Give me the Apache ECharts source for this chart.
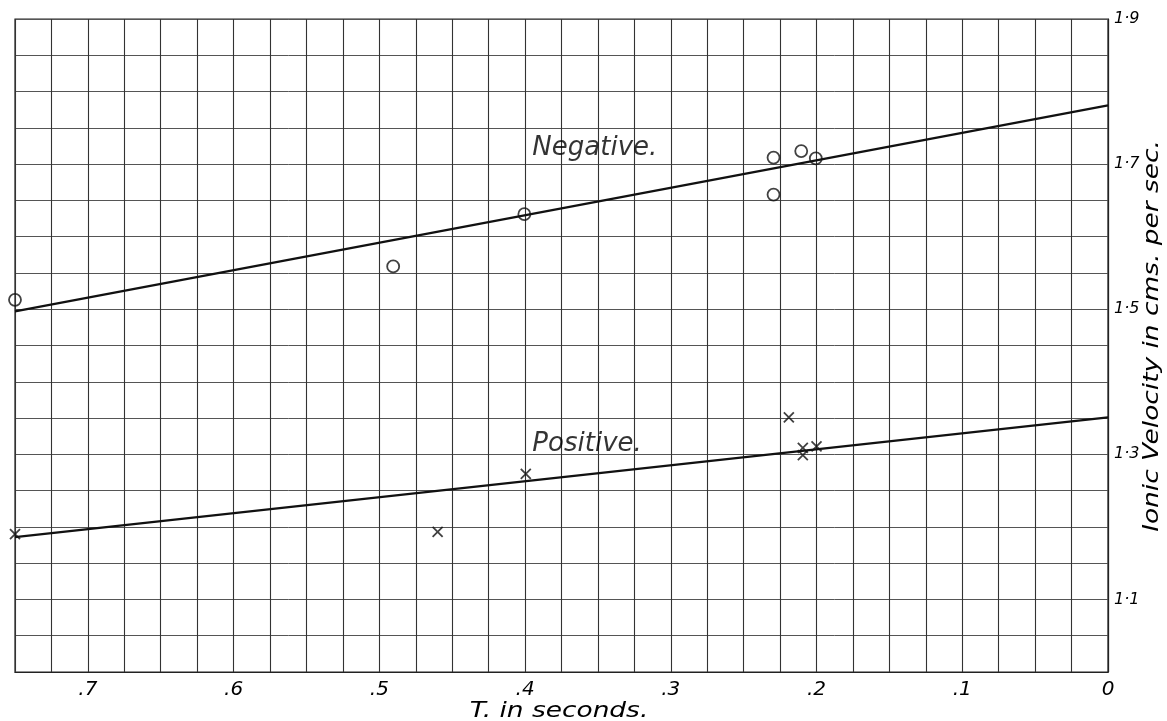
<!DOCTYPE html>
<html>
<head>
<meta charset="utf-8">
<script src="https://cdn.jsdelivr.net/npm/echarts@6/dist/echarts.min.js"></script>
<style>
html,body{margin:0;padding:0;background:#fff;overflow:hidden;width:100%;height:100%;}
#c{width:100vw;height:100vh;}
</style>
</head>
<body>
<div id="c"></div>
<script>
// ---- data ----
var negativePoints = [[0.75,1.513],[0.4905,1.559],[0.4005,1.631],[0.2295,1.709],[0.2295,1.658],[0.2105,1.718],[0.2005,1.708]];
var positivePoints = [[0.75,1.19],[0.46,1.193],[0.3995,1.273],[0.219,1.351],[0.2094,1.309],[0.2094,1.299],[0.2,1.311]];
var negativeLine = [[0.75,1.497],[0,1.781]];
var positiveLine = [[0.75,1.186],[0,1.351]];
var xTickValues = [0, 0.1, 0.2, 0.3, 0.4, 0.5, 0.6, 0.7];
var xTickLabels = ['0', '.1', '.2', '.3', '.4', '.5', '.6', '.7'];
var yTickValues = [1.1, 1.3, 1.5, 1.7, 1.9];
var yTickLabels = ['1·1', '1·3', '1·5', '1·7', '1·9'];
var seriesNames = ['Negative.', 'Positive.'];
var seriesLabelAt = [[0.395, 1.722], [0.395, 1.314]];
var xAxisName = 'T. in seconds.';
var yAxisName = 'Ionic Velocity in cms. per sec.';

function lookup(values, labels, v) {
  for (var i = 0; i < values.length; i++) {
    if (Math.abs(values[i] - v) < 1e-6) return labels[i];
  }
  return '';
}

var FONT = '"DejaVu Sans", "Liberation Sans", sans-serif';
var crossPath = 'path://M0,0L10,10M10,0L0,10';

var chart = echarts.init(document.getElementById('c'), null, {renderer: 'canvas'});
chart.setOption({
  backgroundColor: '#fff',
  animation: false,
  grid: {left: 15, right: 59, top: 19, bottom: 49, containLabel: false, outerBoundsMode: 'none',
         show: true, borderColor: '#222', borderWidth: 1.2, backgroundColor: 'transparent'},
  xAxis: {
    type: 'value', min: 0, max: 0.75, interval: 0.025, inverse: true,
    axisLine: {show: true, lineStyle: {color: '#222', width: 1.2}},
    axisTick: {show: false},
    axisLabel: {
      fontFamily: FONT, fontStyle: 'italic', fontSize: 20, color: '#000', margin: 8,
      showMinLabel: true, showMaxLabel: true,
      formatter: function (v) { return lookup(xTickValues, xTickLabels, v); }
    },
    splitLine: {show: true, lineStyle: {color: '#333', width: 1.1}}
  },
  yAxis: {
    type: 'value', min: 1.0, max: 1.9, interval: 0.05, position: 'right',
    axisLine: {show: true, lineStyle: {color: '#222', width: 1.2}},
    axisTick: {show: false},
    axisLabel: {
      fontFamily: FONT, fontStyle: 'italic', fontSize: 16, color: '#000', margin: 6,
      showMinLabel: true, showMaxLabel: true,
      formatter: function (v) { return lookup(yTickValues, yTickLabels, v); }
    },
    splitLine: {show: true, lineStyle: {color: '#555', width: 1}}
  },
  graphic: [
    {
      type: 'text', x: 559, y: 711, scaleX: 1.2, silent: true,
      style: {text: xAxisName, font: 'italic 22px ' + FONT, fill: '#000', align: 'center', verticalAlign: 'middle'}
    },
    {
      type: 'text', x: 1152, y: 336, rotation: Math.PI / 2, scaleX: 1.2, silent: true,
      style: {text: yAxisName, font: 'italic 22px ' + FONT, fill: '#000', align: 'center', verticalAlign: 'middle'}
    }
  ],
  series: [
    {
      type: 'line', data: negativeLine, symbol: 'none', silent: true,
      lineStyle: {color: '#111', width: 2.2}
    },
    {
      type: 'line', data: positiveLine, symbol: 'none', silent: true,
      lineStyle: {color: '#111', width: 2.2}
    },
    {
      type: 'scatter', data: negativePoints, symbol: 'circle', symbolSize: 12, clip: false,
      itemStyle: {color: 'rgba(255,255,255,0)', borderColor: '#111', borderWidth: 1.8}
    },
    {
      type: 'scatter', data: positivePoints, symbol: crossPath, symbolSize: 10, clip: false,
      itemStyle: {color: 'rgba(255,255,255,0)', borderColor: '#111', borderWidth: 1.8}
    },
    {
      type: 'scatter', symbolSize: 0, silent: true,
      data: seriesLabelAt.map(function (p, i) { return {value: p, name: seriesNames[i]}; }),
      label: {
        show: true, position: 'right', distance: 0,
        formatter: function (p) { return p.name; },
        fontFamily: FONT, fontStyle: 'italic', fontSize: 26, color: '#000'
      }
    }
  ]
});
</script>
</body>
</html>
